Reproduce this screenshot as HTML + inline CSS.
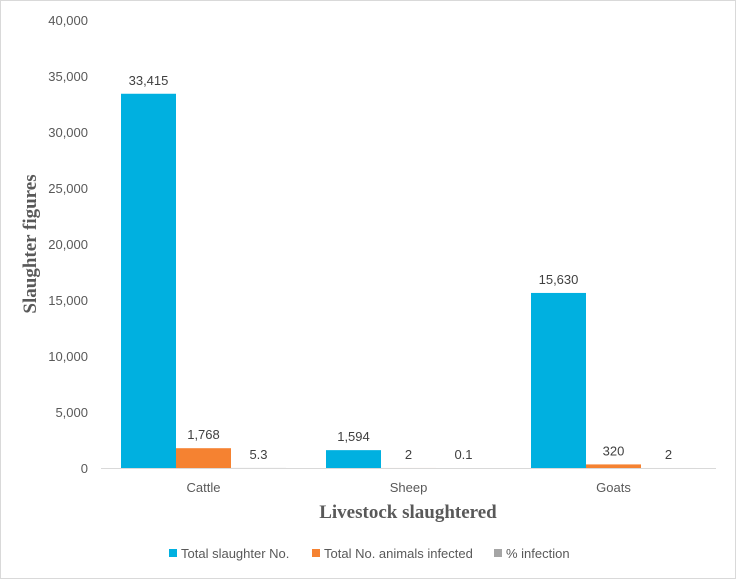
<!DOCTYPE html>
<html><head><meta charset="utf-8"><style>
body{margin:0;background:#fff}
svg text{font-family:"Liberation Sans",sans-serif}
</style></head><body>
<svg id="c" width="736" height="579">
<rect x="0.5" y="0.5" width="735" height="578" fill="#fff" stroke="#d9d9d9"/>
<g id="g"></g>
<text x="36" y="244" transform="rotate(-90 36 244)" text-anchor="middle" font-size="19" font-weight="bold" fill="#595959" style="font-family:'Liberation Serif',serif">Slaughter figures</text>
<text x="408" y="518" text-anchor="middle" font-size="19" font-weight="bold" fill="#595959" style="font-family:'Liberation Serif',serif">Livestock slaughtered</text>
<g font-size="13" fill="#595959">
<g><rect x="169" y="549" width="8" height="8" fill="#00b0e0"/><text x="181" y="558">Total slaughter No.</text></g>
<g><rect x="312" y="549" width="8" height="8" fill="#f58231"/><text x="324" y="558">Total No. animals infected</text></g>
<g><rect x="494" y="549" width="8" height="8" fill="#a5a5a5"/><text x="506" y="558">% infection</text></g>
</g>
</svg>
<script>
const categories=["Cattle","Sheep","Goats"];
const totalSlaughter=[33415,1594,15630];
const totalInfected=[1768,2,320];
const pctInfection=[5.3,0.1,2];
const pctLabels=["5.3","0.1","2"];
const yTicks=[0,5000,10000,15000,20000,25000,30000,35000,40000];
const X0=101,X1=716,Y0=468,Y1=20,YMAX=40000;
const y=v=>Y0-(v/YMAX)*(Y0-Y1);
const bw=(X1-X0)/categories.length;
const g=document.getElementById('g');
const NS='http://www.w3.org/2000/svg';
function mk(t,a){const e=document.createElementNS(NS,t);for(const k in a)e.setAttribute(k,a[k]);g.appendChild(e);return e;}
yTicks.forEach(v=>{const t=mk('text',{x:88,y:y(v)+5,'text-anchor':'end','font-size':13,fill:'#595959'});t.textContent=v.toLocaleString('en-US');

});
const series=[[totalSlaughter,'#00b0e0',null],[totalInfected,'#f58231',null],[pctInfection,'#a5a5a5',pctLabels]];
const barW=(bw-40)/3;
categories.forEach((c,i)=>{
 const cx=X0+bw*i+bw/2;
 const t=mk('text',{x:cx,y:492,'text-anchor':'middle','font-size':13,fill:'#595959'});t.textContent=c;
 
 
 series.forEach((s,j)=>{
  const v=s[0][i],bx=X0+bw*i+20+barW*j;
  const r=mk('rect',{x:bx,y:y(v),width:barW,height:Y0-y(v),fill:s[1]});
  
  
  const l=mk('text',{x:bx+barW/2,y:y(v)-9,'text-anchor':'middle','font-size':13,fill:'#404040'});
  l.textContent=s[2]?s[2][i]:v.toLocaleString('en-US');
  
  
 });
});
const ax=mk('line',{x1:X0,x2:X1,y1:Y0+0.5,y2:Y0+0.5,stroke:'#d9d9d9'});


</script>
</body></html>
